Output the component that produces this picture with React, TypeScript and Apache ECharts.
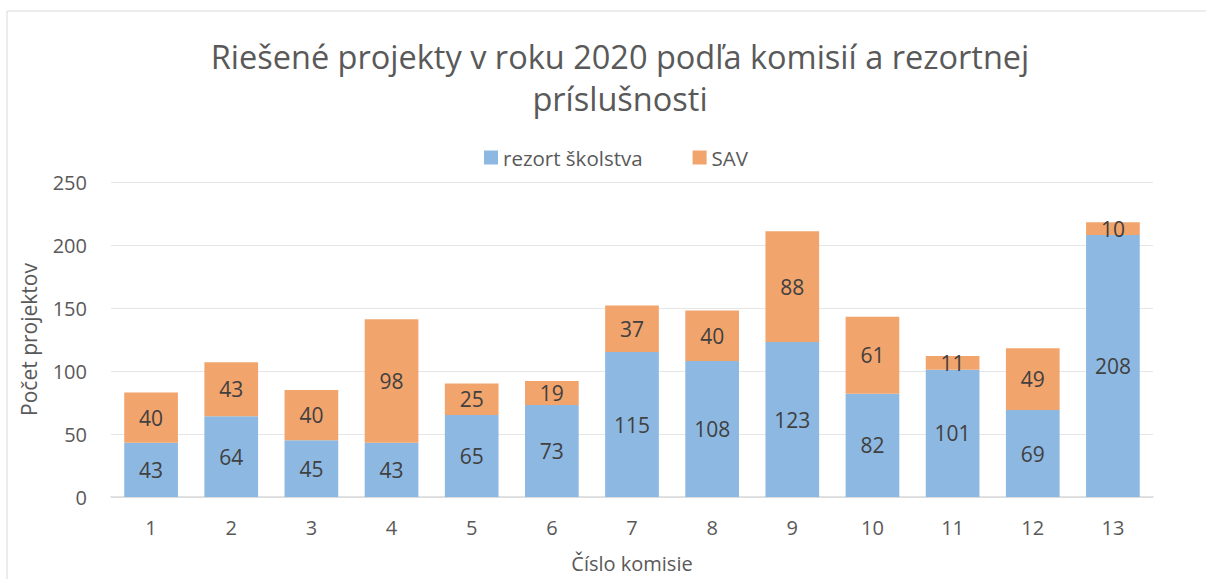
import React, { useEffect, useRef } from "react";
import * as echarts from "echarts";

const categories = ["1", "2", "3", "4", "5", "6", "7", "8", "9", "10", "11", "12", "13"];
const rezortSkolstva = [43, 64, 45, 43, 65, 73, 115, 108, 123, 82, 101, 69, 208];
const sav = [40, 43, 40, 98, 25, 19, 37, 40, 88, 61, 11, 49, 10];
const titleText = "Riešené projekty v roku 2020 podľa komisií a rezortnej\nprislušnosti".replace("prislu", "príslu");

const FONT = "'Open Sans', 'Noto Sans', sans-serif";

export default function App() {
  const ref = useRef<HTMLDivElement>(null);
  useEffect(() => {
    if (!ref.current) return;
    const chart = echarts.init(ref.current, undefined, { renderer: "svg" });
    chart.setOption({
      animation: false,
      backgroundColor: "#ffffff",
      textStyle: { fontFamily: FONT },
      graphic: [
        {
          type: "rect",
          shape: { x: 7, y: 11, width: 1220, height: 600 },
          style: { fill: "none", stroke: "#d9d9d9", lineWidth: 1 },
          silent: true,
        },
      ],
      title: {
        text: titleText,
        left: 615,
        textAlign: "center",
        top: 30,
        textStyle: {
          fontFamily: FONT,
          fontSize: 32.5,
          fontWeight: "normal",
          color: "#595959",
          lineHeight: 42,
        },
      },
      legend: {
        top: 142,
        left: 479,
        itemWidth: 14,
        itemHeight: 14,
        itemGap: 50,
        icon: "rect",
        textStyle: { fontFamily: FONT, fontSize: 20.5, color: "#595959" },
        data: ["rezort školstva", "SAV"],
      },
      grid: { left: 111, right: 53, top: 182, bottom: 82, outerBoundsMode: "none" },
      xAxis: {
        type: "category",
        data: categories,
        name: "Číslo komisie",
        nameLocation: "middle",
        nameGap: 56,
        nameTextStyle: { fontFamily: FONT, fontSize: 20, color: "#595959" },
        axisLine: { lineStyle: { color: "#d9d9d9", width: 1.5 } },
        axisTick: { show: false },
        axisLabel: { fontFamily: FONT, fontSize: 20, color: "#595959", margin: 20 },
      },
      yAxis: {
        type: "value",
        min: 0,
        max: 250,
        interval: 50,
        name: "Počet projektov",
        nameLocation: "middle",
        nameGap: 72,
        nameTextStyle: { fontFamily: FONT, fontSize: 21, color: "#595959" },
        axisLine: { show: false },
        axisTick: { show: false },
        axisLabel: { fontFamily: FONT, fontSize: 20, color: "#595959", margin: 24 },
        splitLine: { lineStyle: { color: "#e6e6e6", width: 1 } },
      },
      series: [
        {
          name: "rezort školstva",
          type: "bar",
          stack: "total",
          data: rezortSkolstva,
          barCategoryGap: "33%",
          itemStyle: { color: "#8db8e2" },
          label: {
            show: true,
            position: "inside",
            fontFamily: FONT,
            fontSize: 21,
            color: "#404040",
          },
        },
        {
          name: "SAV",
          type: "bar",
          stack: "total",
          data: sav,
          barCategoryGap: "33%",
          itemStyle: { color: "#f2a46d" },
          label: {
            show: true,
            position: "inside",
            fontFamily: FONT,
            fontSize: 21,
            color: "#404040",
          },
        },
      ],
    });
    return () => chart.dispose();
  }, []);
  return <div ref={ref} style={{ width: 1206, height: 579, position: "absolute", left: 0, top: 0 }} />;
}
